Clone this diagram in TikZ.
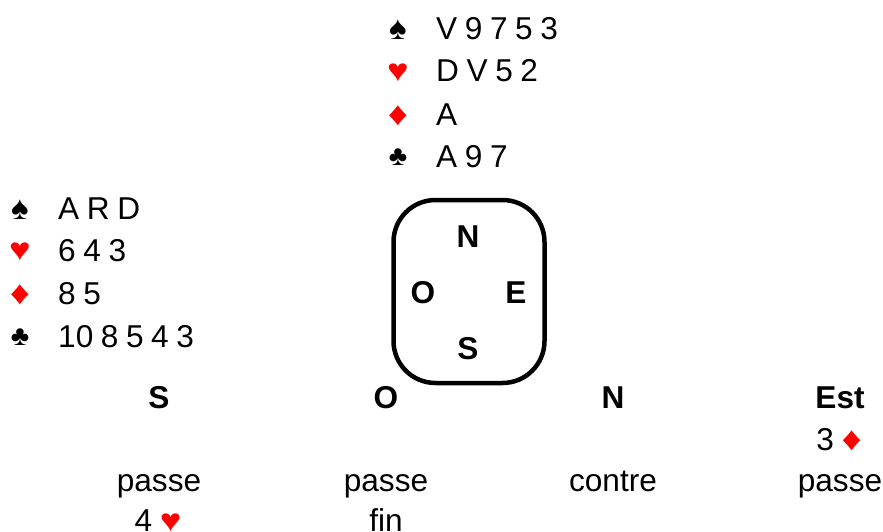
\documentclass[tikz,border=0pt]{standalone}
\usepackage{fontspec}
\usepackage{graphicx}
\setmainfont{Liberation Sans}
\definecolor{cardred}{RGB}{255,0,0}
\newcommand{\Spade}{{\fontsize{33}{34}\selectfont\char"2660 }}
\newcommand{\Heart}{{\fontsize{31.6}{34}\selectfont\color{cardred}\scalebox{1.15}[1.0]{\char"2665 }}}
\newcommand{\Diam}{{\fontsize{31.6}{34}\selectfont\color{cardred}\scalebox{1.25}[1.05]{\char"2666 }}}
\newcommand{\Club}{{\fontsize{28}{34}\selectfont\char"2663 }}
\newcommand{\tsize}{\fontsize{31.6}{34}\selectfont\spaceskip=0.24em\relax}
\begin{document}
\begin{tikzpicture}[x=1pt,y=-1pt,
  txt/.style={inner sep=0pt,font=\tsize,anchor=base west},
  suit/.style={inner sep=0pt,font=\tsize,anchor=base},
  ctr/.style={inner sep=0pt,font=\tsize,anchor=base},
  hd/.style={inner sep=0pt,font=\fontsize{31.6}{34}\selectfont\bfseries,anchor=base}]
\useasboundingbox (0,0) rectangle (883,532);
\node[suit] (ns) at (398,40) {\Spade};
\node[suit] (nh) at (398,81.5) {\Heart};
\node[suit] (nd) at (398,125) {\Diam};
\node[suit] (nc) at (398,165) {\Club};
\node[txt] (nst) at (436,40) {V 9 7 5 3};
\node[txt] (nht) at (436,82) {D V 5 2};
\node[txt] (ndt) at (436,125) {A};
\node[txt] (nct) at (436,167) {A 9 7};
\node[suit] (ws) at (20,219) {\Spade};
\node[suit] (wh) at (20,260.5) {\Heart};
\node[suit] (wd) at (20,304) {\Diam};
\node[suit] (wc) at (20,345) {\Club};
\node[txt] (wst) at (58,219) {A R D};
\node[txt] (wht) at (58,261) {6 4 3};
\node[txt] (wdt) at (58,304) {8 5};
\node[txt] (wct) at (58,347) {10 8 5 4 3};
\node[draw,line width=4.5pt,rounded corners=42pt,minimum width=151pt,minimum height=183pt,inner sep=0pt] (table) at (469,291.5) {};
\node[hd] (tn) at (468,247.5) {N};
\node[hd] (to) at (423,303) {O};
\node[hd] (te) at (516,303) {E};
\node[hd] (ts) at (468,359) {S};
\node[hd] (hs) at (159,408) {S};
\node[hd] (ho) at (386,408) {O};
\node[hd] (hn) at (613,408) {N};
\node[hd] (he) at (840,408) {Est};
\node[ctr] (b1) at (839,450) {3 \Diam};
\node[ctr] (b2) at (159,491) {passe};
\node[ctr] (b3) at (386,491) {passe};
\node[ctr] (b4) at (613,491) {contre};
\node[ctr] (b5) at (840,491) {passe};
\node[ctr] (b6) at (158,531.5) {4 \Heart};
\node[ctr] (b7) at (386,531.5) {fin};
\end{tikzpicture}
\end{document}
